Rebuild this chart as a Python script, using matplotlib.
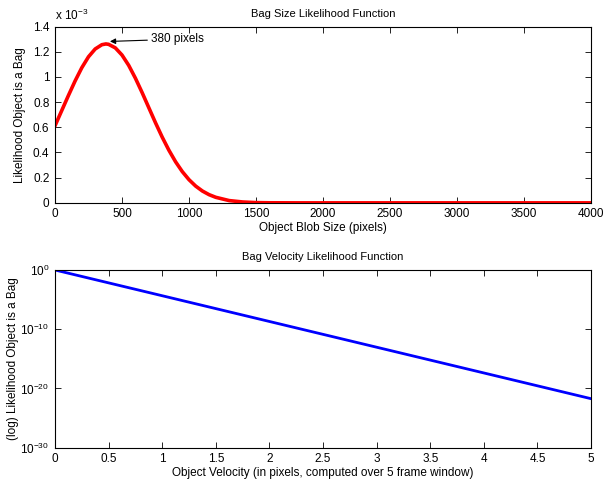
import matplotlib
matplotlib.use("Agg")
import matplotlib.pyplot as plt

plt.rcParams["font.family"] = ["Liberation Sans", "DejaVu Sans"]
plt.rcParams["font.size"] = 8.5
plt.rcParams["mathtext.fontset"] = "custom"
plt.rcParams["mathtext.rm"] = "Liberation Sans"

# blob size likelihood (units of 1e-3)
size_px = [0, 50, 100, 150, 200, 250, 300, 350, 380, 400, 450, 500, 550, 600,
           650, 700, 750, 800, 850, 900, 950, 1000, 1050, 1100, 1150, 1200,
           1300, 1400, 1500, 1600, 1800, 2500, 3000, 3500, 4000]
size_like = [0.612, 0.732, 0.852, 0.968, 1.073, 1.160, 1.222, 1.256, 1.262,
             1.259, 1.231, 1.174, 1.092, 0.990, 0.876, 0.756, 0.636, 0.522,
             0.418, 0.326, 0.248, 0.184, 0.133, 0.094, 0.065, 0.044, 0.018,
             0.007, 0.002, 0.0006, 0.0, 0.0, 0.0, 0.0, 0.0]

# velocity likelihood (log scale), straight line end points
velocity = [0, 5]
vel_like = [1.0, 1.9e-22]

peak_x = 380
peak_y = 1.262

fig = plt.figure(figsize=(6.13, 4.83), dpi=100)
ax1 = fig.add_axes([0.0897, 0.580, 0.8745, 0.365])
ax2 = fig.add_axes([0.0897, 0.073, 0.8745, 0.368])

ax1.plot(size_px, size_like, color="#ff0000", linewidth=2.6)
ax1.set_xlim(0, 4000)
ax1.set_ylim(0, 1.4)
ax1.set_xticks(range(0, 4001, 500))
ax1.set_yticks([0, 0.2, 0.4, 0.6, 0.8, 1.0, 1.2, 1.4])
ax1.set_yticklabels(["0", "0.2", "0.4", "0.6", "0.8", "1", "1.2", "1.4"])
ax1.set_title("Bag Size Likelihood Function", fontsize=8, pad=7)
ax1.set_xlabel("Object Blob Size (pixels)", labelpad=1)
ax1.set_ylabel("Likelihood Object is a Bag", labelpad=5)
ax1.text(0, 1.02, r"x 10$^{-3}$", transform=ax1.transAxes, ha="left", va="bottom")
ax1.annotate("380 pixels", xy=(peak_x + 30, peak_y + 0.02), xytext=(720, 1.30),
             va="center", ha="left",
             arrowprops=dict(arrowstyle="-|>", color="black", lw=0.8,
                             mutation_scale=8, shrinkA=1, shrinkB=0))

ax2.semilogy(velocity, vel_like, color="#0000ff", linewidth=2)
ax2.set_xlim(0, 5)
ax2.set_ylim(1e-30, 1e0)
ax2.set_xticks([0, 0.5, 1, 1.5, 2, 2.5, 3, 3.5, 4, 4.5, 5])
ax2.set_xticklabels(["0", "0.5", "1", "1.5", "2", "2.5", "3", "3.5", "4", "4.5", "5"])
ax2.set_yticks([1e-30, 1e-20, 1e-10, 1e0])
ax2.set_yticklabels([r"10$^{-30}$", r"10$^{-20}$", r"10$^{-10}$", r"10$^{0}$"])
ax2.minorticks_off()
ax2.set_title("Bag Velocity Likelihood Function", fontsize=8, pad=7)
ax2.set_xlabel("Object Velocity (in pixels, computed over 5 frame window)", labelpad=1)
ax2.set_ylabel("(log) Likelihood Object is a Bag", labelpad=1)

for ax in (ax1, ax2):
    ax.tick_params(direction="in", top=True, right=True, length=4, width=0.6,
                   labelsize=8.5, pad=4)
    for sp in ax.spines.values():
        sp.set_linewidth(0.8)

fig.savefig("out.png", dpi=100)
